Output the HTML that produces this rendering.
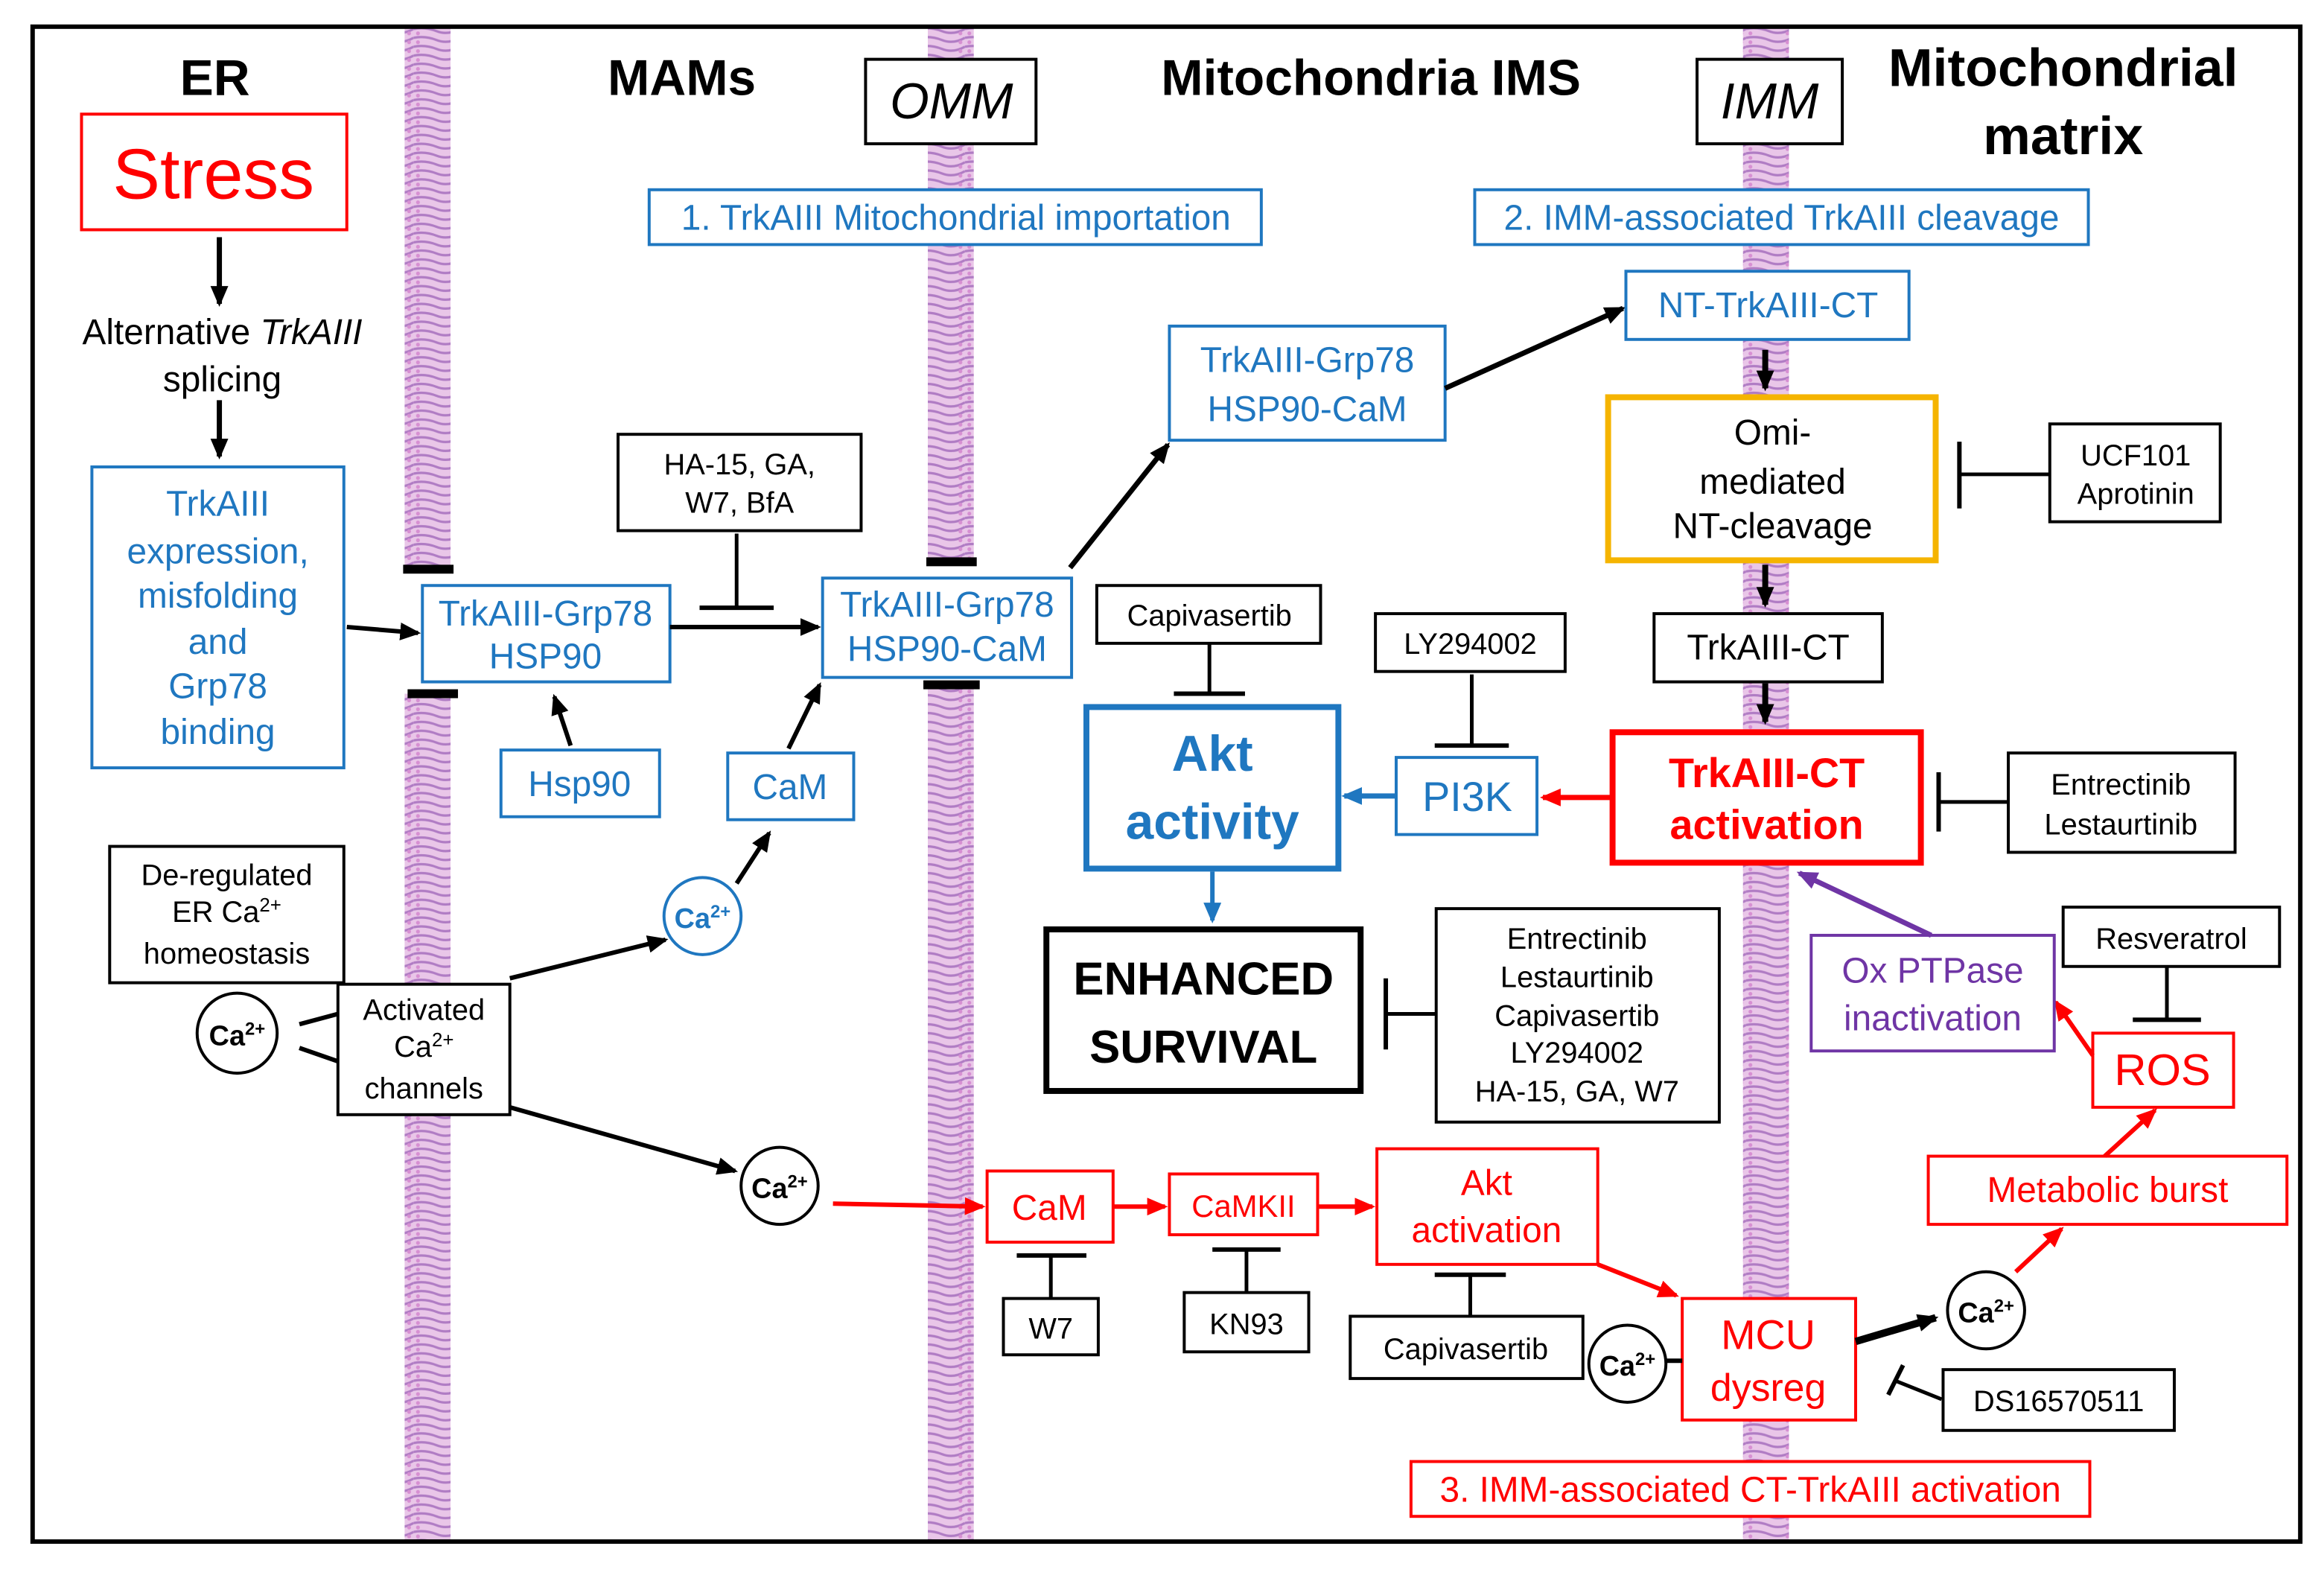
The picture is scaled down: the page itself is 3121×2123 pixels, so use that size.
<!DOCTYPE html>
<html><head><meta charset="utf-8"><style>
html,body{margin:0;padding:0;background:#fff;}
svg{display:block;}
text{font-family:"Liberation Sans",Arial,sans-serif;}
</style></head><body>
<svg width="3121" height="2123" viewBox="0 0 1568 1066.6" preserveAspectRatio="none" xmlns="http://www.w3.org/2000/svg">
<defs>
<pattern id="mem" width="31" height="6" patternUnits="userSpaceOnUse">
<rect width="31" height="6" fill="#e9c6e8"/>
<path d="M0 1.5 Q8 0 15.5 3 T31 1.5" stroke="#b07cc4" stroke-width="1.6" fill="none"/>
<circle cx="3" cy="4.5" r="1.3" fill="#d78fd2"/><circle cx="28" cy="4.5" r="1.3" fill="#d78fd2"/>
</pattern>
<marker id="ak" markerWidth="10" markerHeight="10" refX="7" refY="5" orient="auto" markerUnits="userSpaceOnUse"><path d="M0,0 L10,5 L0,10 Z" transform="scale(1.4) translate(-2,-1.5)" fill="#000"/></marker>
<marker id="ar" markerWidth="16" markerHeight="16" refX="12" refY="6" orient="auto" markerUnits="userSpaceOnUse"><path d="M0,0 L14,6 L0,12 Z" fill="#f00"/></marker>
<marker id="ab" markerWidth="16" markerHeight="16" refX="12" refY="6" orient="auto" markerUnits="userSpaceOnUse"><path d="M0,0 L14,6 L0,12 Z" fill="#1f77c0"/></marker>
<marker id="ap" markerWidth="16" markerHeight="16" refX="12" refY="6" orient="auto" markerUnits="userSpaceOnUse"><path d="M0,0 L14,6 L0,12 Z" fill="#6f35a5"/></marker>
<marker id="a2" markerWidth="16" markerHeight="16" refX="12" refY="6" orient="auto" markerUnits="userSpaceOnUse"><path d="M0,0 L14,6 L0,12 Z" fill="#000"/></marker>
</defs>
<rect x="0" y="0" width="1568" height="1067" fill="#fff"/>
<!-- membranes -->
<rect x="273" y="19" width="31" height="366" fill="url(#mem)"/>
<rect x="273" y="468" width="31" height="572" fill="url(#mem)"/>
<rect x="272" y="381" width="34" height="6" fill="#000"/>
<rect x="275" y="465" width="34" height="6" fill="#000"/>
<rect x="626" y="19" width="31" height="360" fill="url(#mem)"/>
<rect x="626" y="462" width="31" height="578" fill="url(#mem)"/>
<rect x="625" y="376" width="34" height="6" fill="#000"/>
<rect x="623" y="459" width="38" height="6" fill="#000"/>
<rect x="1176" y="19" width="31" height="1021" fill="url(#mem)"/>
<rect x="22" y="18" width="1530" height="1022" fill="none" stroke="#000" stroke-width="3"/>

<g font-size="24" text-anchor="middle">
<!-- headers -->
<text x="145" y="64" font-size="34" font-weight="bold">ER</text>
<text x="460" y="64" font-size="34" font-weight="bold">MAMs</text>
<text x="925" y="64" font-size="34" font-weight="bold">Mitochondria IMS</text>
<text x="1392" y="58" font-size="36" font-weight="bold">Mitochondrial</text>
<text x="1392" y="104" font-size="36" font-weight="bold">matrix</text>
<rect x="584" y="40" width="115" height="57" fill="#fff" stroke="#000" stroke-width="2"/>
<text x="642" y="80" font-size="34" font-style="italic">OMM</text>
<rect x="1145" y="40" width="98" height="57" fill="#fff" stroke="#000" stroke-width="2"/>
<text x="1194" y="80" font-size="34" font-style="italic">IMM</text>

<rect x="55" y="77" width="179" height="78" fill="#fff" stroke="#f00" stroke-width="2"/>
<text x="144" y="134" font-size="48" fill="#f00">Stress</text>
<line x1="148" y1="160" x2="148" y2="205" stroke="#000" stroke-width="3.5" marker-end="url(#a2)"/>
<text x="150" y="232">Alternative <tspan font-style="italic">TrkAIII</tspan></text>
<text x="150" y="264">splicing</text>
<line x1="148" y1="270" x2="148" y2="308" stroke="#000" stroke-width="3.5" marker-end="url(#a2)"/>
<rect x="62" y="315" width="170" height="203" fill="#fff" stroke="#1f77c0" stroke-width="2"/>
<g fill="#1f77c0"><text x="147" y="348">TrkAIII</text><text x="147" y="380">expression,</text><text x="147" y="410">misfolding</text><text x="147" y="441">and</text><text x="147" y="471">Grp78</text><text x="147" y="502">binding</text></g>
<line x1="234" y1="423" x2="282" y2="427" stroke="#000" stroke-width="3" marker-end="url(#a2)"/>

<rect x="438" y="128" width="413" height="37" fill="#fff" stroke="#1f77c0" stroke-width="2"/>
<text x="645" y="155" fill="#1f77c0">1.  TrkAIII Mitochondrial importation</text>
<rect x="995" y="128" width="414" height="37" fill="#fff" stroke="#1f77c0" stroke-width="2"/>
<text x="1202" y="155" fill="#1f77c0">2. IMM-associated TrkAIII cleavage</text>

<rect x="285" y="395" width="167" height="65" fill="#fff" stroke="#1f77c0" stroke-width="2"/>
<text x="368" y="422" fill="#1f77c0">TrkAIII-Grp78</text><text x="368" y="451" fill="#1f77c0">HSP90</text>
<rect x="417" y="293" width="164" height="65" fill="#fff" stroke="#000" stroke-width="2"/>
<text x="499" y="320" font-size="20">HA-15, GA,</text><text x="499" y="346" font-size="20">W7, BfA</text>
<line x1="497" y1="360" x2="497" y2="410" stroke="#000" stroke-width="2.5"/><line x1="472" y1="410" x2="522" y2="410" stroke="#000" stroke-width="3"/>
<line x1="452" y1="423" x2="552" y2="423" stroke="#000" stroke-width="3" marker-end="url(#a2)"/>
<rect x="555" y="390" width="168" height="67" fill="#fff" stroke="#1f77c0" stroke-width="2"/>
<text x="639" y="416" fill="#1f77c0">TrkAIII-Grp78</text><text x="639" y="446" fill="#1f77c0">HSP90-CaM</text>
<rect x="338" y="506" width="107" height="45" fill="#fff" stroke="#1f77c0" stroke-width="2"/>
<text x="391" y="537" fill="#1f77c0">Hsp90</text>
<line x1="385" y1="503" x2="374" y2="470" stroke="#000" stroke-width="3" marker-end="url(#a2)"/>
<rect x="491" y="508" width="85" height="45" fill="#fff" stroke="#1f77c0" stroke-width="2"/>
<text x="533" y="539" fill="#1f77c0">CaM</text>
<line x1="532" y1="505" x2="553" y2="462" stroke="#000" stroke-width="3" marker-end="url(#a2)"/>
<circle cx="474" cy="618" r="26" fill="#fff" stroke="#1f77c0" stroke-width="2"/>
<text x="474" y="626" font-size="19" font-weight="bold" fill="#1f77c0">Ca<tspan font-size="12" dy="-7">2+</tspan></text>
<line x1="497" y1="596" x2="519" y2="562" stroke="#000" stroke-width="3" marker-end="url(#a2)"/>

<rect x="74" y="571" width="158" height="92" fill="#fff" stroke="#000" stroke-width="2"/>
<text x="153" y="597" font-size="20">De-regulated</text><text x="153" y="622" font-size="20">ER Ca<tspan font-size="13" dy="-7">2+</tspan></text><text x="153" y="650" font-size="20">homeostasis</text>
<rect x="228" y="664" width="116" height="88" fill="#fff" stroke="#000" stroke-width="2"/>
<text x="286" y="688" font-size="20">Activated</text><text x="286" y="713" font-size="20">Ca<tspan font-size="13" dy="-7">2+</tspan></text><text x="286" y="741" font-size="20">channels</text>
<circle cx="160" cy="697" r="27" fill="#fff" stroke="#000" stroke-width="2"/>
<text x="160" y="705" font-size="19" font-weight="bold">Ca<tspan font-size="12" dy="-7">2+</tspan></text>
<line x1="202" y1="691" x2="228" y2="684" stroke="#000" stroke-width="3"/><line x1="202" y1="707" x2="228" y2="716" stroke="#000" stroke-width="3"/>
<line x1="344" y1="660" x2="449" y2="634" stroke="#000" stroke-width="3" marker-end="url(#a2)"/>
<line x1="344" y1="747" x2="496" y2="790" stroke="#000" stroke-width="3" marker-end="url(#a2)"/>
<circle cx="526" cy="800" r="26" fill="#fff" stroke="#000" stroke-width="2"/>
<text x="526" y="808" font-size="19" font-weight="bold">Ca<tspan font-size="12" dy="-7">2+</tspan></text>

<line x1="562" y1="812" x2="663" y2="814" stroke="#f00" stroke-width="3" marker-end="url(#ar)"/>
<rect x="666" y="790" width="85" height="48" fill="#fff" stroke="#f00" stroke-width="2"/>
<text x="708" y="823" fill="#f00">CaM</text>
<line x1="751" y1="814" x2="786" y2="814" stroke="#f00" stroke-width="3" marker-end="url(#ar)"/>
<rect x="789" y="792" width="100" height="41" fill="#fff" stroke="#f00" stroke-width="2"/>
<text x="839" y="821" font-size="21" fill="#f00">CaMKII</text>
<line x1="889" y1="814" x2="926" y2="814" stroke="#f00" stroke-width="3" marker-end="url(#ar)"/>
<rect x="929" y="775" width="149" height="78" fill="#fff" stroke="#f00" stroke-width="2"/>
<text x="1003" y="806" fill="#f00">Akt</text><text x="1003" y="838" fill="#f00">activation</text>
<line x1="1078" y1="853" x2="1131" y2="874" stroke="#f00" stroke-width="3" marker-end="url(#ar)"/>
<rect x="677" y="876" width="64" height="38" fill="#fff" stroke="#000" stroke-width="2"/><text x="709" y="903" font-size="20">W7</text>
<line x1="709" y1="847" x2="709" y2="876" stroke="#000" stroke-width="2.5"/><line x1="686" y1="847" x2="733" y2="847" stroke="#000" stroke-width="3"/>
<rect x="799" y="872" width="84" height="40" fill="#fff" stroke="#000" stroke-width="2"/><text x="841" y="900" font-size="20">KN93</text>
<line x1="841" y1="843" x2="841" y2="872" stroke="#000" stroke-width="2.5"/><line x1="818" y1="843" x2="864" y2="843" stroke="#000" stroke-width="3"/>
<rect x="911" y="888" width="157" height="42" fill="#fff" stroke="#000" stroke-width="2"/><text x="989" y="917" font-size="20">Capivasertib</text>
<line x1="992" y1="860" x2="992" y2="888" stroke="#000" stroke-width="2.5"/><line x1="968" y1="860" x2="1016" y2="860" stroke="#000" stroke-width="3"/>
<rect x="1135" y="876" width="117" height="82" fill="#fff" stroke="#f00" stroke-width="2"/>
<text x="1193" y="910" font-size="28" fill="#f00">MCU</text><text x="1193" y="945" font-size="26" fill="#f00">dysreg</text>
<circle cx="1098" cy="920" r="26" fill="#fff" stroke="#000" stroke-width="2"/>
<text x="1098" y="928" font-size="19" font-weight="bold">Ca<tspan font-size="12" dy="-7">2+</tspan></text>
<line x1="1124" y1="918" x2="1135" y2="918" stroke="#000" stroke-width="3"/>
<line x1="1252" y1="905" x2="1306" y2="889" stroke="#000" stroke-width="5" marker-end="url(#a2)"/>
<circle cx="1340" cy="884" r="26" fill="#fff" stroke="#000" stroke-width="2"/>
<text x="1340" y="892" font-size="19" font-weight="bold">Ca<tspan font-size="12" dy="-7">2+</tspan></text>
<rect x="1311" y="924" width="156" height="41" fill="#fff" stroke="#000" stroke-width="2"/><text x="1389" y="952" font-size="20">DS16570511</text>
<line x1="1310" y1="944" x2="1280" y2="932" stroke="#000" stroke-width="2.5"/><line x1="1274" y1="941" x2="1284" y2="921" stroke="#000" stroke-width="3"/>
<line x1="1360" y1="858" x2="1391" y2="829" stroke="#f00" stroke-width="3" marker-end="url(#ar)"/>
<rect x="1301" y="780" width="242" height="46" fill="#fff" stroke="#f00" stroke-width="2"/>
<text x="1422" y="811" fill="#f00">Metabolic burst</text>
<line x1="1420" y1="780" x2="1454" y2="749" stroke="#f00" stroke-width="3" marker-end="url(#ar)"/>
<rect x="1412" y="697" width="95" height="50" fill="#fff" stroke="#f00" stroke-width="2"/>
<text x="1459" y="732" font-size="30" fill="#f00">ROS</text>
<rect x="1392" y="612" width="146" height="40" fill="#fff" stroke="#000" stroke-width="2"/><text x="1465" y="640" font-size="20">Resveratrol</text>
<line x1="1462" y1="652" x2="1462" y2="688" stroke="#000" stroke-width="2.5"/><line x1="1439" y1="688" x2="1485" y2="688" stroke="#000" stroke-width="3"/>
<line x1="1412" y1="712" x2="1387" y2="676" stroke="#f00" stroke-width="3" marker-end="url(#ar)"/>
<rect x="1222" y="631" width="164" height="78" fill="#fff" stroke="#6f35a5" stroke-width="2"/>
<text x="1304" y="663" fill="#6f35a5">Ox PTPase</text><text x="1304" y="695" fill="#6f35a5">inactivation</text>
<line x1="1303" y1="631" x2="1214" y2="589" stroke="#6f35a5" stroke-width="3.5" marker-end="url(#ap)"/>

<rect x="1088" y="494" width="208" height="88" fill="#fff" stroke="#f00" stroke-width="4"/>
<text x="1192" y="531" font-size="28" font-weight="bold" fill="#f00">TrkAIII-CT</text>
<text x="1192" y="566" font-size="28" font-weight="bold" fill="#f00">activation</text>
<rect x="1355" y="508" width="153" height="67" fill="#fff" stroke="#000" stroke-width="2"/>
<text x="1431" y="536" font-size="20">Entrectinib</text><text x="1431" y="563" font-size="20">Lestaurtinib</text>
<line x1="1355" y1="541" x2="1308" y2="541" stroke="#000" stroke-width="2.5"/><line x1="1308" y1="521" x2="1308" y2="561" stroke="#000" stroke-width="3"/>
<line x1="1088" y1="538" x2="1041" y2="538" stroke="#f00" stroke-width="3.5" marker-end="url(#ar)"/>
<rect x="942" y="511" width="95" height="52" fill="#fff" stroke="#1f77c0" stroke-width="2"/>
<text x="990" y="547" font-size="28" fill="#1f77c0">PI3K</text>
<rect x="928" y="414" width="128" height="39" fill="#fff" stroke="#000" stroke-width="2"/><text x="992" y="441" font-size="20">LY294002</text>
<line x1="993" y1="455" x2="993" y2="503" stroke="#000" stroke-width="2.5"/><line x1="968" y1="503" x2="1018" y2="503" stroke="#000" stroke-width="3"/>
<line x1="942" y1="537" x2="907" y2="537" stroke="#1f77c0" stroke-width="3.5" marker-end="url(#ab)"/>
<rect x="733" y="477" width="170" height="109" fill="#fff" stroke="#1f77c0" stroke-width="4"/>
<text x="818" y="520" font-size="34" font-weight="bold" fill="#1f77c0">Akt</text>
<text x="818" y="566" font-size="34" font-weight="bold" fill="#1f77c0">activity</text>
<rect x="740" y="395" width="151" height="39" fill="#fff" stroke="#000" stroke-width="2"/><text x="816" y="422" font-size="20">Capivasertib</text>
<line x1="816" y1="434" x2="816" y2="468" stroke="#000" stroke-width="2.5"/><line x1="792" y1="468" x2="840" y2="468" stroke="#000" stroke-width="3"/>
<line x1="818" y1="588" x2="818" y2="621" stroke="#1f77c0" stroke-width="3" marker-end="url(#ab)"/>
<rect x="706" y="627" width="212" height="109" fill="#fff" stroke="#000" stroke-width="4"/>
<text x="812" y="671" font-size="31" font-weight="bold">ENHANCED</text>
<text x="812" y="717" font-size="31" font-weight="bold">SURVIVAL</text>
<rect x="969" y="613" width="191" height="144" fill="#fff" stroke="#000" stroke-width="2"/>
<g font-size="20"><text x="1064" y="640">Entrectinib</text><text x="1064" y="666">Lestaurtinib</text><text x="1064" y="692">Capivasertib</text><text x="1064" y="717">LY294002</text><text x="1064" y="743">HA-15, GA, W7</text></g>
<line x1="969" y1="684" x2="935" y2="684" stroke="#000" stroke-width="2.5"/><line x1="935" y1="660" x2="935" y2="708" stroke="#000" stroke-width="3"/>

<line x1="722" y1="383" x2="788" y2="300" stroke="#000" stroke-width="3.5" marker-end="url(#a2)"/>
<rect x="789" y="220" width="186" height="77" fill="#fff" stroke="#1f77c0" stroke-width="2"/>
<text x="882" y="251" fill="#1f77c0">TrkAIII-Grp78</text><text x="882" y="284" fill="#1f77c0">HSP90-CaM</text>
<line x1="975" y1="262" x2="1095" y2="208" stroke="#000" stroke-width="3.5" marker-end="url(#a2)"/>
<rect x="1097" y="183" width="191" height="46" fill="#fff" stroke="#1f77c0" stroke-width="2"/>
<text x="1193" y="214" fill="#1f77c0">NT-TrkAIII-CT</text>
<line x1="1191" y1="236" x2="1191" y2="262" stroke="#000" stroke-width="4" marker-end="url(#a2)"/>
<rect x="1085" y="268" width="221" height="110" fill="#fff" stroke="#f5b400" stroke-width="4"/>
<text x="1196" y="300">Omi-</text><text x="1196" y="333">mediated</text><text x="1196" y="363">NT-cleavage</text>
<rect x="1383" y="286" width="115" height="66" fill="#fff" stroke="#000" stroke-width="2"/>
<text x="1441" y="314" font-size="20">UCF101</text><text x="1441" y="340" font-size="20">Aprotinin</text>
<line x1="1383" y1="320" x2="1322" y2="320" stroke="#000" stroke-width="2.5"/><line x1="1322" y1="298" x2="1322" y2="343" stroke="#000" stroke-width="3"/>
<line x1="1191" y1="381" x2="1191" y2="408" stroke="#000" stroke-width="4" marker-end="url(#a2)"/>
<rect x="1116" y="414" width="154" height="46" fill="#fff" stroke="#000" stroke-width="2"/>
<text x="1193" y="445">TrkAIII-CT</text>
<line x1="1191" y1="461" x2="1191" y2="487" stroke="#000" stroke-width="4" marker-end="url(#a2)"/>
<rect x="952" y="986" width="458" height="37" fill="#fff" stroke="#f00" stroke-width="2"/>
<text x="1181" y="1013" fill="#f00">3. IMM-associated CT-TrkAIII activation</text>
</g>
</svg>
</body></html>
